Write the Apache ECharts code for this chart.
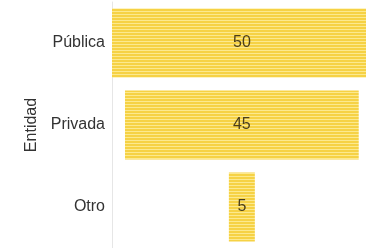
<!DOCTYPE html>
<html>
<head>
<meta charset="utf-8">
<script src="https://cdn.jsdelivr.net/npm/echarts@6/dist/echarts.min.js"></script>
<style>
html, body { margin: 0; padding: 0; background: #fff; }
#chart { width: 366px; height: 248px; }
</style>
</head>
<body>
<div id="chart"></div>
<script>
// datos
const categorias = ['Pública', 'Privada', 'Otro'];
const valores = [50, 45, 5];
const centro = 25;   // eje central de las barras
const tope = 48.9;   // borde derecho visible

// relleno rayado horizontal
function rayas() {
    const c = document.createElement('canvas');
    c.width = 4;
    c.height = 3;
    const ctx = c.getContext('2d');
    ctx.fillStyle = '#f6d245';
    ctx.fillRect(0, 0, 4, 2);
    ctx.fillStyle = '#fce98e';
    ctx.fillRect(0, 2, 4, 1);
    return c;
}

// desplazamiento invisible para centrar las barras
const huecos = valores.map(v => centro - v / 2);
// la barra que se sale del borde: etiqueta centrada en la barra completa
const barras = valores.map(v => v > tope ? { value: v, label: { offset: [3, 0] } } : v);

const myChart = echarts.init(document.getElementById('chart'));
myChart.setOption({
    animation: false,
    grid: { left: 112, right: 0, top: 2, bottom: 0 },
    xAxis: {
        type: 'value',
        min: 0,
        max: tope,
        show: false
    },
    yAxis: {
        type: 'category',
        inverse: true,
        data: categorias,
        name: 'Entidad',
        nameLocation: 'middle',
        nameGap: 71,
        nameTextStyle: { fontFamily: 'Liberation Sans', fontSize: 16, color: '#333' },
        axisLine: { show: true, lineStyle: { color: '#e6e6e6', width: 1 } },
        axisTick: { show: false },
        axisLabel: { fontFamily: 'Liberation Sans', fontSize: 16, color: '#333', margin: 7 }
    },
    series: [
        {
            type: 'bar',
            stack: 'total',
            data: huecos,
            itemStyle: { color: 'transparent' },
            silent: true,
            barCategoryGap: '16%'
        },
        {
            type: 'bar',
            stack: 'total',
            data: barras,
            itemStyle: { color: { image: rayas(), repetition: 'repeat' } },
            label: {
                show: true,
                position: 'inside',
                fontFamily: 'Liberation Sans',
                fontSize: 16,
                color: '#4a3e1c'
            },
            barCategoryGap: '16%'
        }
    ]
});
</script>
</body>
</html>
